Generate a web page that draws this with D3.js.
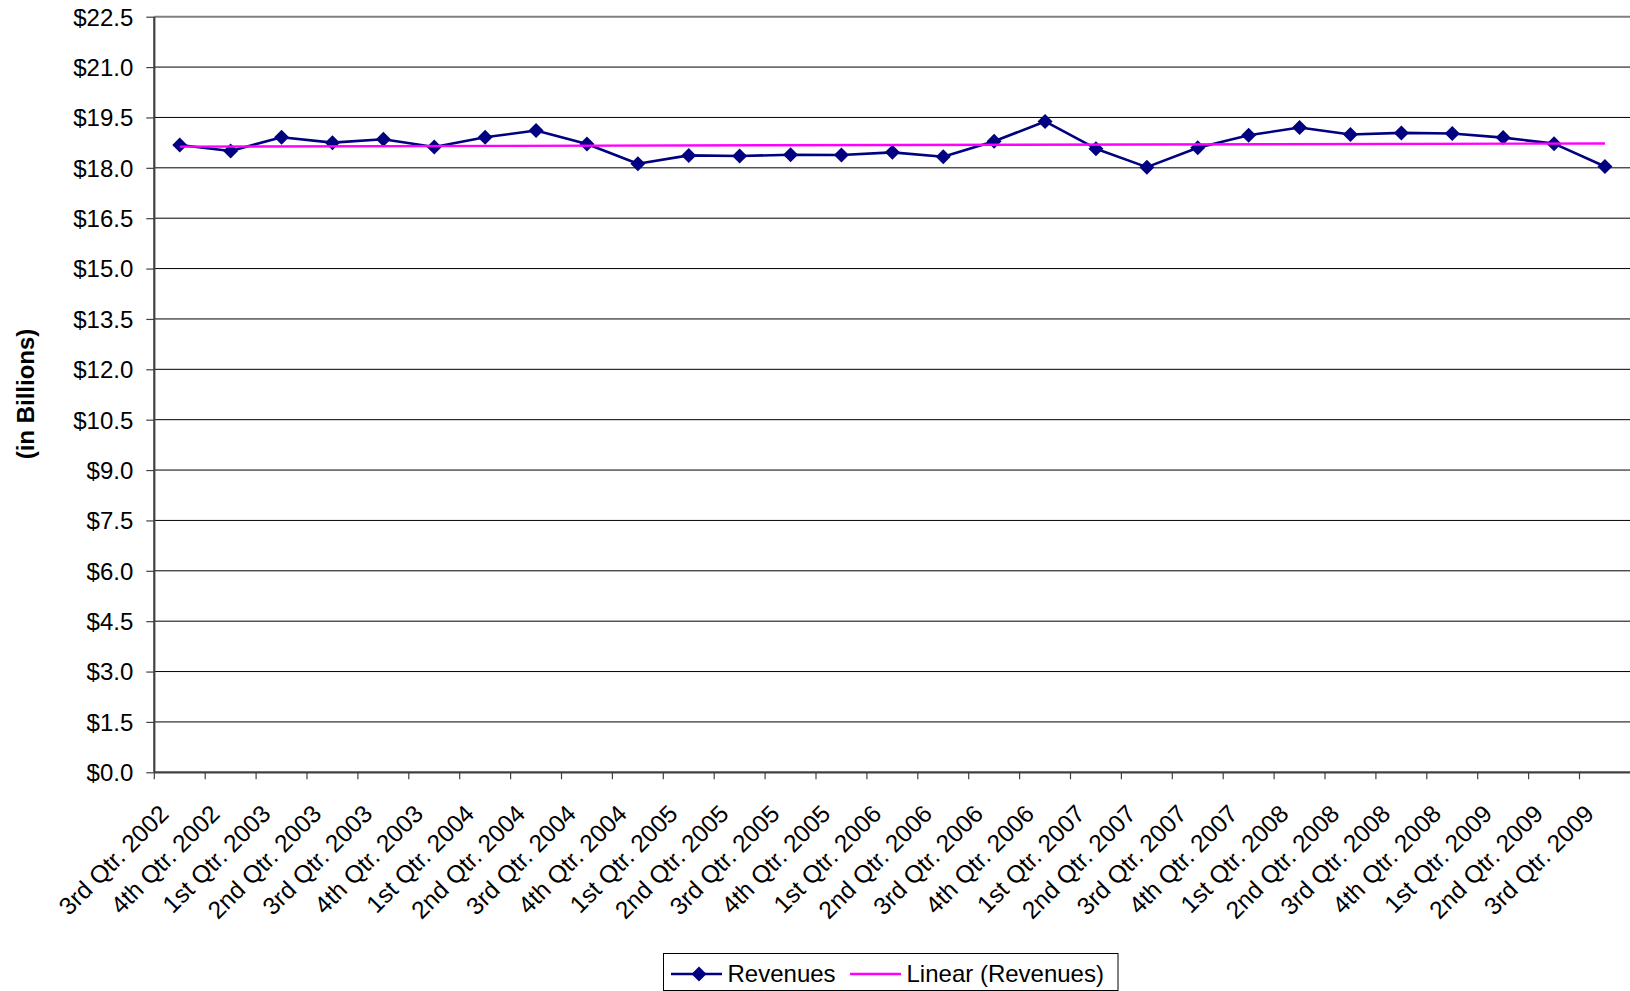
<!DOCTYPE html>
<html>
<head>
<meta charset="utf-8">
<script src="https://cdn.jsdelivr.net/npm/d3@7"></script>
<style>
  html, body { margin: 0; padding: 0; background: #fff; }
  svg { display: block; }
  text { font-family: "Liberation Sans", Arial, sans-serif; fill: #000; }
</style>
</head>
<body>
<svg id="chart" width="1630" height="991"></svg>
<script>
// Quarterly revenues, in billions of dollars
const quarters = [
  "3rd Qtr. 2002", "4th Qtr. 2002",
  "1st Qtr. 2003", "2nd Qtr. 2003", "3rd Qtr. 2003", "4th Qtr. 2003",
  "1st Qtr. 2004", "2nd Qtr. 2004", "3rd Qtr. 2004", "4th Qtr. 2004",
  "1st Qtr. 2005", "2nd Qtr. 2005", "3rd Qtr. 2005", "4th Qtr. 2005",
  "1st Qtr. 2006", "2nd Qtr. 2006", "3rd Qtr. 2006", "4th Qtr. 2006",
  "1st Qtr. 2007", "2nd Qtr. 2007", "3rd Qtr. 2007", "4th Qtr. 2007",
  "1st Qtr. 2008", "2nd Qtr. 2008", "3rd Qtr. 2008", "4th Qtr. 2008",
  "1st Qtr. 2009", "2nd Qtr. 2009", "3rd Qtr. 2009"
];
const revenues = [
  18.68, 18.50,
  18.91, 18.75, 18.85, 18.62,
  18.91, 19.11, 18.71, 18.12,
  18.37, 18.35, 18.39, 18.38,
  18.46, 18.33, 18.79, 19.38,
  18.57, 18.02, 18.60, 18.97,
  19.20, 18.99, 19.04, 19.02,
  18.90, 18.72, 18.04
];
const yTicks = [0, 1.5, 3, 4.5, 6, 7.5, 9, 10.5, 12, 13.5, 15, 16.5, 18, 19.5, 21, 22.5];
const yMax = 22.5;

const plot = { left: 154.3, top: 16.7, right: 1630.4, bottom: 772.3 };
const svg = d3.select("#chart");

const x = d3.scaleBand().domain(quarters).range([plot.left, plot.right]).padding(0);
const y = d3.scaleLinear().domain([0, yMax]).range([plot.bottom, plot.top]);
const cx = q => x(q) + x.bandwidth() / 2;

// Horizontal gridlines
svg.append("g")
  .selectAll("line")
  .data(yTicks.filter(v => v > 0 && v < yMax))
  .join("line")
  .attr("x1", plot.left).attr("x2", plot.right)
  .attr("y1", d => y(d)).attr("y2", d => y(d))
  .attr("stroke", "#000").attr("stroke-width", 1);

// Plot area border (top)
svg.append("line")
  .attr("x1", plot.left).attr("x2", plot.right)
  .attr("y1", plot.top).attr("y2", plot.top)
  .attr("stroke", "#808080").attr("stroke-width", 2);

// Y axis
const yAxis = d3.axisLeft(y)
  .tickValues(yTicks)
  .tickSize(8)
  .tickPadding(13)
  .tickFormat(d => "$" + d3.format(".1f")(d));
const gy = svg.append("g").attr("transform", `translate(${plot.left},0)`).call(yAxis);
gy.select(".domain").attr("stroke", "#404040").attr("stroke-width", 2.2)
  .attr("d", `M0,${plot.top}V${plot.bottom}`);
gy.selectAll(".tick line").attr("stroke", "#404040").attr("stroke-width", 1.2);
gy.selectAll(".tick text")
  .attr("font-size", 24)
  .attr("font-family", "'Liberation Sans', Arial, sans-serif")
  .attr("fill", "#000")
  .attr("dy", "0.35em");

// X axis: ticks sit on the category boundaries
const gx = svg.append("g").attr("transform", `translate(0,${plot.bottom})`);
gx.append("line")
  .attr("x1", plot.left).attr("x2", plot.right)
  .attr("stroke", "#404040").attr("stroke-width", 2.2);
gx.selectAll("line.tick")
  .data(quarters)
  .join("line")
  .attr("class", "tick")
  .attr("x1", d => x(d)).attr("x2", d => x(d))
  .attr("y1", 0).attr("y2", 7)
  .attr("stroke", "#404040").attr("stroke-width", 1.2);
gx.selectAll("text")
  .data(quarters)
  .join("text")
  .attr("transform", d => `translate(${cx(d) - 9.5},43) rotate(-45)`)
  .attr("text-anchor", "end")
  .attr("font-size", 24.5)
  .text(d => d);

// Y axis title
svg.append("text")
  .attr("transform", `translate(34,394) rotate(-90)`)
  .attr("text-anchor", "middle")
  .attr("font-size", 24)
  .attr("font-weight", "bold")
  .text("(in Billions)");

// Linear trend fitted to the revenue series (least squares)
const idx = revenues.map((_, i) => i + 1);
const mx = d3.mean(idx), my = d3.mean(revenues);
const slope = d3.sum(idx, (t, i) => (t - mx) * (revenues[i] - my)) / d3.sum(idx, t => (t - mx) ** 2);
const intercept = my - slope * mx;
const trend = quarters.map((q, i) => ({ q, v: intercept + slope * (i + 1) }));

const line = d3.line().x(d => cx(d.q)).y(d => y(d.v));

// Revenue series
const series = quarters.map((q, i) => ({ q, v: revenues[i] }));
svg.append("path")
  .datum(series)
  .attr("d", line)
  .attr("fill", "none")
  .attr("stroke", "#000080")
  .attr("stroke-width", 2.6)
  .attr("stroke-linejoin", "round");

svg.append("g")
  .selectAll("path")
  .data(series)
  .join("path")
  .attr("transform", d => `translate(${cx(d.q)},${y(d.v)})`)
  .attr("d", "M0,-7.5L7.5,0L0,7.5L-7.5,0Z")
  .attr("fill", "#000080");

svg.append("path")
  .datum([trend[0], trend[trend.length - 1]])
  .attr("d", line)
  .attr("fill", "none")
  .attr("stroke", "#FF00FF")
  .attr("stroke-width", 2.4);

// Legend
const lg = svg.append("g");
lg.append("rect")
  .attr("x", 663.5).attr("y", 953.5)
  .attr("width", 454.5).attr("height", 37)
  .attr("fill", "#fff").attr("stroke", "#000").attr("stroke-width", 1);
lg.append("line")
  .attr("x1", 671).attr("x2", 722).attr("y1", 974).attr("y2", 974)
  .attr("stroke", "#000080").attr("stroke-width", 2.6);
lg.append("path")
  .attr("transform", "translate(699,974)")
  .attr("d", "M0,-7.5L7.5,0L0,7.5L-7.5,0Z")
  .attr("fill", "#000080");
lg.append("text")
  .attr("x", 727.5).attr("y", 982).attr("font-size", 24).text("Revenues");
lg.append("line")
  .attr("x1", 850).attr("x2", 901).attr("y1", 974).attr("y2", 974)
  .attr("stroke", "#FF00FF").attr("stroke-width", 2.4);
lg.append("text")
  .attr("x", 906.5).attr("y", 982).attr("font-size", 24).text("Linear (Revenues)");
</script>
</body>
</html>
